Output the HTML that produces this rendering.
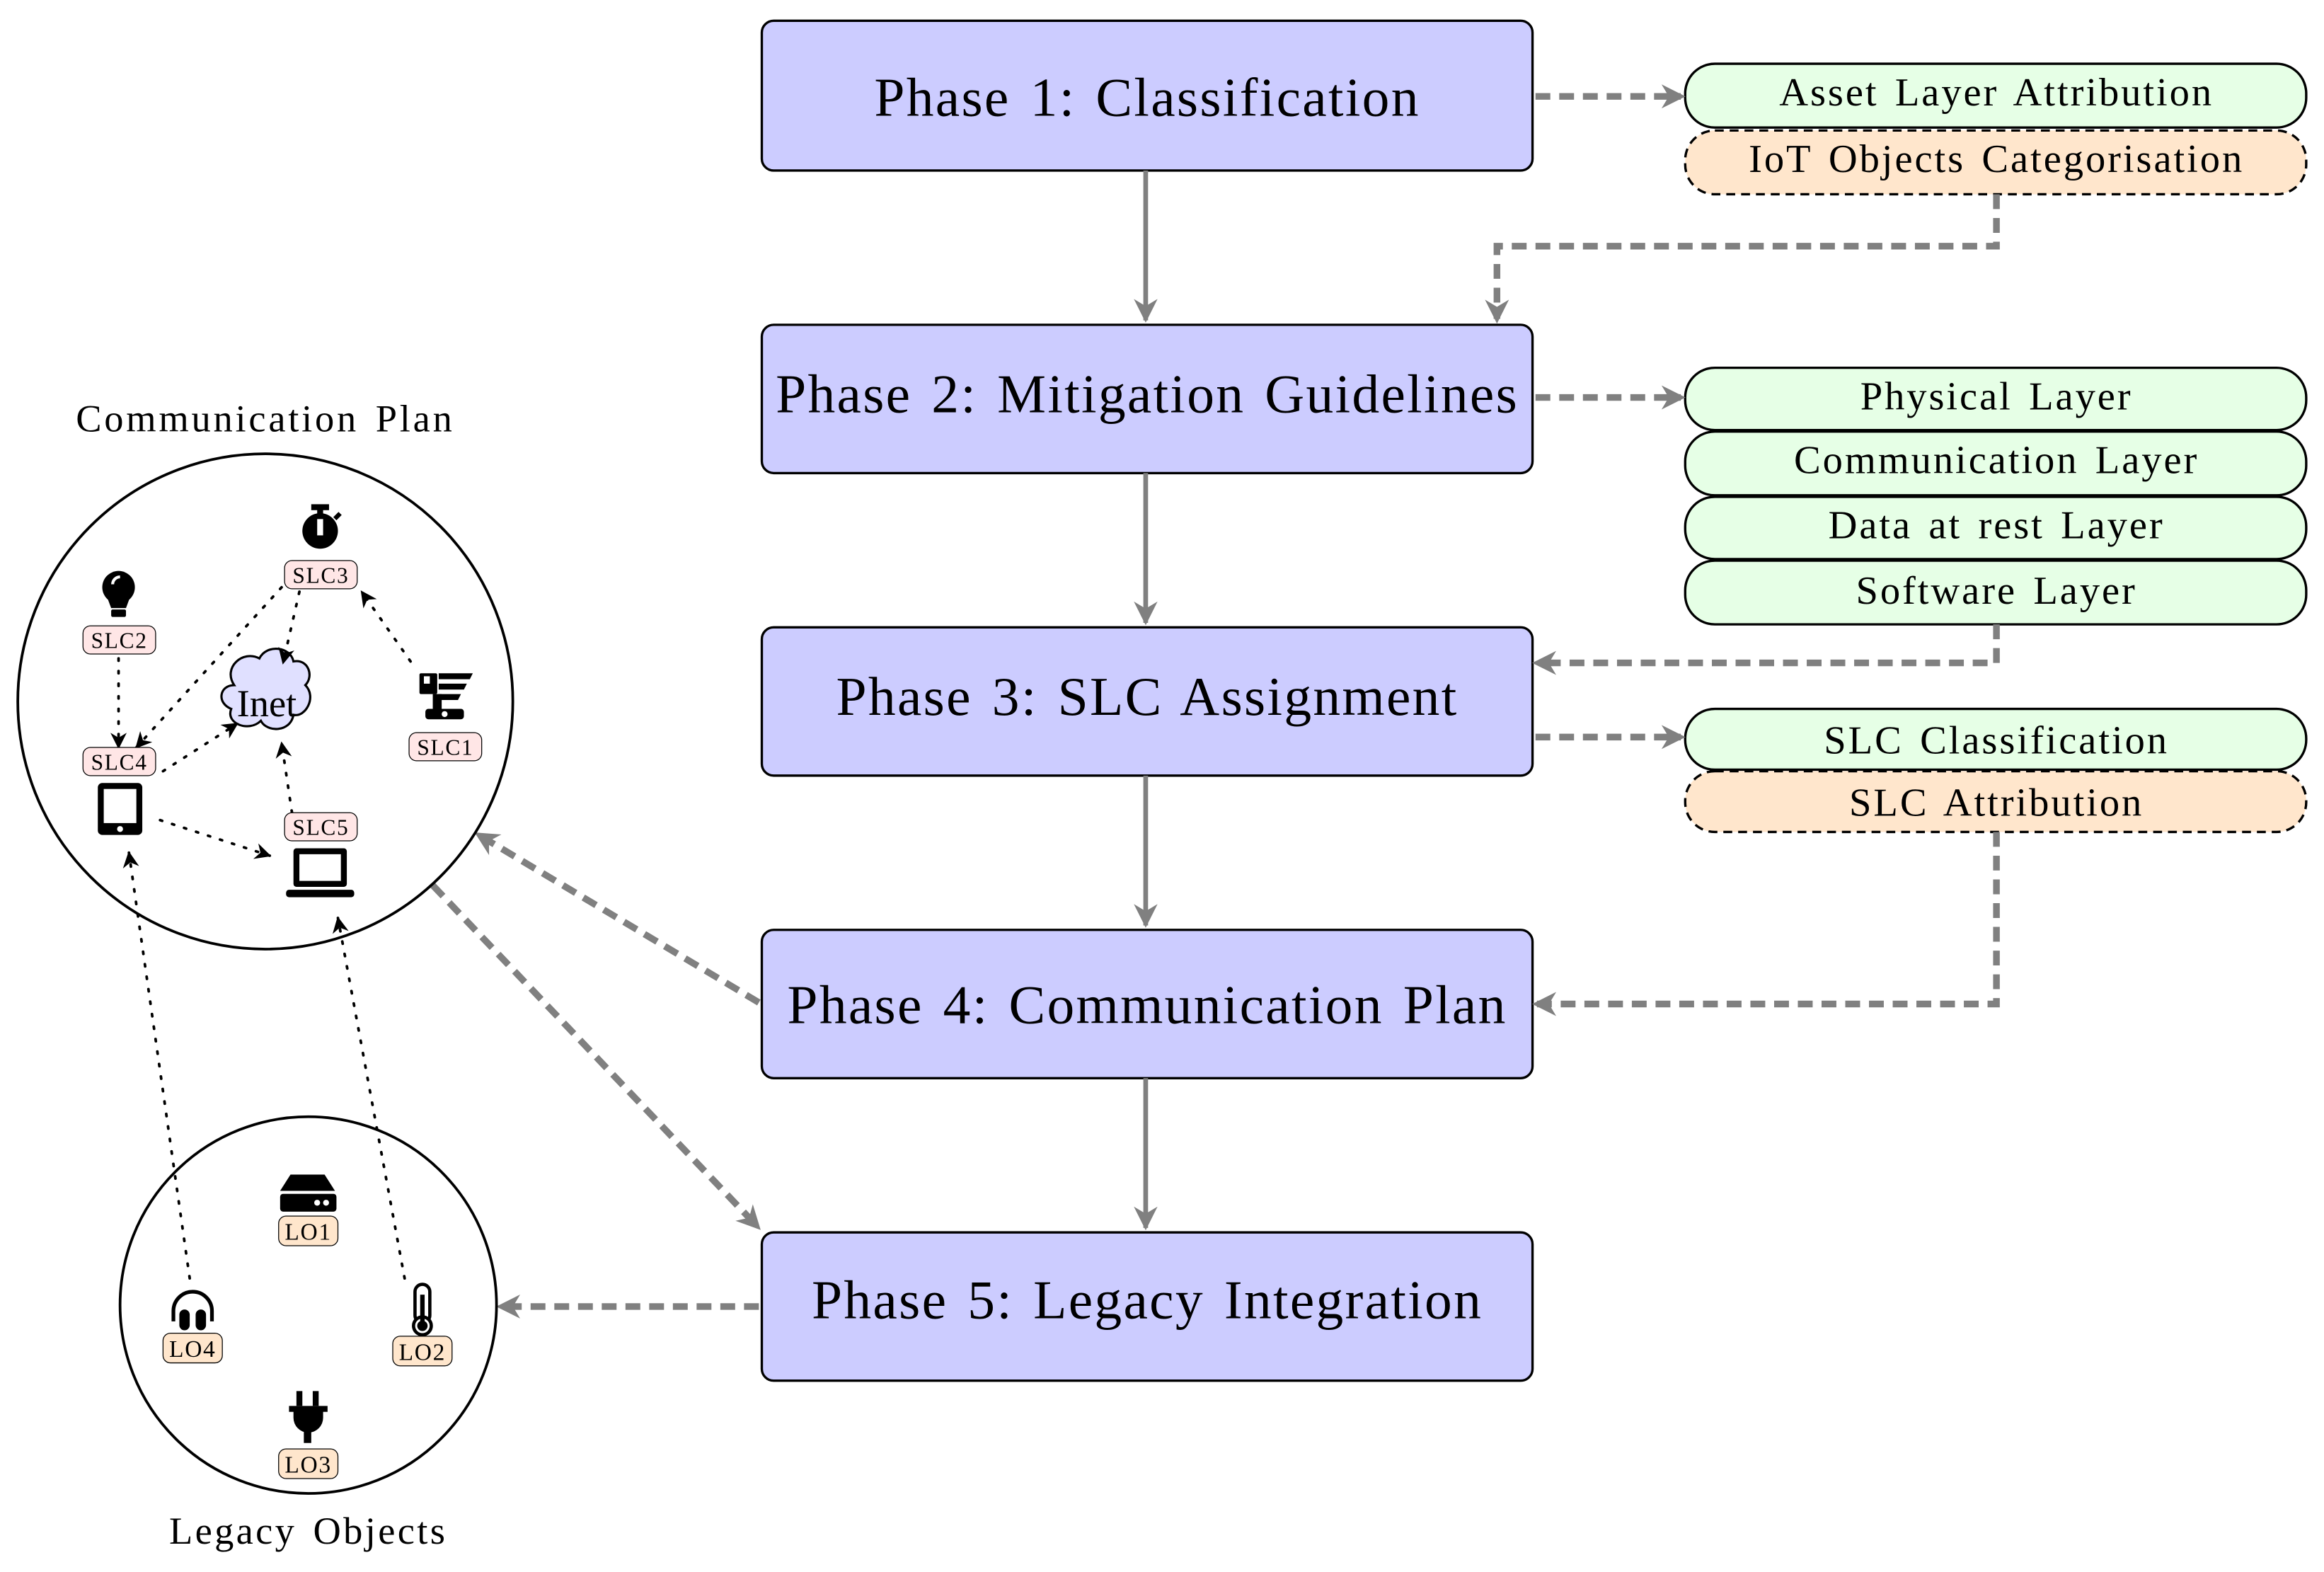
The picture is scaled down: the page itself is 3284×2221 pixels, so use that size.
<!DOCTYPE html>
<html><head><meta charset="utf-8"><style>
html,body{margin:0;padding:0;background:#fff;width:3284px;height:2221px;overflow:hidden}
svg{display:block}
text{font-family:"Liberation Serif",serif;fill:#000}
</style></head><body>
<svg width="3284" height="2221" viewBox="0 0 1568 1060" preserveAspectRatio="none" xmlns="http://www.w3.org/2000/svg">
<defs>
<marker id="ga" viewBox="0 0 10 10" refX="8" refY="5" markerWidth="3.6" markerHeight="3.6" orient="auto"><path d="M0,0 L10,5 L0,10 L3,5 z" fill="#808080"/></marker>
<marker id="gb" viewBox="0 0 10 10" refX="9" refY="5" markerWidth="5" markerHeight="5" orient="auto"><path d="M0,0 L10,5 L0,10 L3,5 z" fill="#808080"/></marker>
<marker id="ka" viewBox="0 0 10 10" refX="9" refY="5" markerWidth="11" markerHeight="11" markerUnits="userSpaceOnUse" orient="auto"><path d="M0,0 L10,5 L0,10 L3,5 z" fill="#000"/></marker>
</defs>

<g fill="#ccccff" stroke="#000" stroke-width="1.6">
<rect x="514" y="14" width="520" height="101" rx="8"/>
<rect x="514" y="219" width="520" height="100" rx="8"/>
<rect x="514" y="423" width="520" height="100" rx="8"/>
<rect x="514" y="627" width="520" height="100" rx="8"/>
<rect x="514" y="831" width="520" height="100" rx="8"/>
</g>
<g font-size="37" text-anchor="middle" letter-spacing="1.1" word-spacing="3">
<text x="774" y="78">Phase 1: Classification</text>
<text x="774" y="278">Phase 2: Mitigation Guidelines</text>
<text x="774" y="482">Phase 3: SLC Assignment</text>
<text x="774" y="690">Phase 4: Communication Plan</text>
<text x="774" y="889">Phase 5: Legacy Integration</text>
</g>

<g stroke="#808080" stroke-width="3.2" fill="none">
<line x1="773" y1="115" x2="773" y2="216" marker-end="url(#gb)"/>
<line x1="773" y1="319" x2="773" y2="420" marker-end="url(#gb)"/>
<line x1="773" y1="523" x2="773" y2="624" marker-end="url(#gb)"/>
<line x1="773" y1="727" x2="773" y2="828" marker-end="url(#gb)"/>
</g>

<g stroke="#000" stroke-width="1.6">
<rect x="1137" y="43" width="419" height="43" rx="20" fill="#e6ffe6"/>
<rect x="1137" y="88" width="419" height="43" rx="20" fill="#ffe6cc" stroke-dasharray="6,4"/>
<rect x="1137" y="248" width="419" height="42" rx="20" fill="#e6ffe6"/>
<rect x="1137" y="291" width="419" height="43" rx="20" fill="#e6ffe6"/>
<rect x="1137" y="335" width="419" height="42" rx="20" fill="#e6ffe6"/>
<rect x="1137" y="378" width="419" height="43" rx="20" fill="#e6ffe6"/>
<rect x="1137" y="478" width="419" height="41" rx="20" fill="#e6ffe6"/>
<rect x="1137" y="520" width="419" height="41" rx="20" fill="#ffe6cc" stroke-dasharray="6,4"/>
</g>
<g font-size="27" text-anchor="middle" letter-spacing="1.4" word-spacing="3">
<text x="1347" y="71">Asset Layer Attribution</text>
<text x="1347" y="116">IoT Objects Categorisation</text>
<text x="1347" y="276">Physical Layer</text>
<text x="1347" y="319">Communication Layer</text>
<text x="1347" y="363">Data at rest Layer</text>
<text x="1347" y="407">Software Layer</text>
<text x="1347" y="508">SLC Classification</text>
<text x="1347" y="550">SLC Attribution</text>
</g>

<g stroke="#808080" stroke-width="4.5" fill="none" stroke-dasharray="10,6">
<line x1="1036" y1="65" x2="1134" y2="65" marker-end="url(#ga)"/>
<line x1="1036" y1="268" x2="1134" y2="268" marker-end="url(#ga)"/>
<line x1="1036" y1="497" x2="1134" y2="497" marker-end="url(#ga)"/>
<polyline points="1347,131 1347,166 1010,166 1010,215" marker-end="url(#ga)"/>
<polyline points="1347,421 1347,447 1037,447" marker-end="url(#ga)"/>
<polyline points="1347,561 1347,677 1037,677" marker-end="url(#ga)"/>
<line x1="512" y1="676" x2="323" y2="563" marker-end="url(#ga)"/>
<line x1="292" y1="597" x2="511" y2="827" marker-end="url(#ga)"/>
<line x1="512" y1="881" x2="338" y2="881" marker-end="url(#ga)"/>
</g>

<circle cx="179" cy="473" r="167" fill="none" stroke="#000" stroke-width="1.8"/>
<circle cx="208" cy="880" r="127" fill="none" stroke="#000" stroke-width="1.8"/>
<text x="179" y="291" font-size="26" text-anchor="middle" letter-spacing="1.8" word-spacing="3">Communication Plan</text>
<text x="208" y="1041" font-size="26" text-anchor="middle" letter-spacing="1.6" word-spacing="3">Legacy Objects</text>

<path d="M158,462 C150,450 164,438 175,444 C180,434 196,436 198,446 C208,444 212,456 206,462 C214,470 206,484 198,482 C196,494 180,494 176,486 C168,494 152,488 156,478 C146,474 148,462 158,462 Z" fill="#e0e0ff" stroke="#000" stroke-width="1.5"/>
<text x="180" y="483" font-size="26" text-anchor="middle">Inet</text>

<g stroke="#000" stroke-width="1.8" fill="none" stroke-dasharray="1.5,7" stroke-linecap="round">
<line x1="80" y1="444" x2="80" y2="504" marker-end="url(#ka)"/>
<line x1="190" y1="396" x2="92" y2="504" marker-end="url(#ka)"/>
<line x1="202" y1="399" x2="191" y2="447" marker-end="url(#ka)"/>
<line x1="277" y1="446" x2="244" y2="399" marker-end="url(#ka)"/>
<line x1="110" y1="520" x2="160" y2="488" marker-end="url(#ka)"/>
<line x1="197" y1="548" x2="190" y2="501" marker-end="url(#ka)"/>
<line x1="108" y1="553" x2="182" y2="577" marker-end="url(#ka)"/>
<line x1="128" y1="862" x2="87" y2="575" marker-end="url(#ka)"/>
<line x1="273" y1="862" x2="228" y2="619" marker-end="url(#ka)"/>
</g>

<g fill="#000">
<rect x="210" y="340" width="12" height="4"/><rect x="214" y="343" width="4" height="5"/>
<circle cx="216" cy="358" r="12"/><rect x="214" y="350" width="4" height="11" fill="#fff"/>
<rect x="225" y="347" width="5" height="3" transform="rotate(-45 227 348)"/>
<circle cx="80" cy="396" r="11"/><path d="M72,402 L88,402 L85,410 L75,410Z"/><rect x="75" y="411" width="10" height="5" rx="1"/>
<path d="M76,394 A5,5 0 0 1 81,389" stroke="#fff" stroke-width="2" fill="none"/>
<rect x="283" y="454" width="12" height="14" rx="1"/><rect x="286" y="456" width="4" height="5" fill="#fff"/>
<path d="M296,454 L319,454 L317,458 L296,458Z M296,461 L315,461 L313,465 L296,465Z M296,468 L311,468 L309,472 L296,472Z"/>
<rect x="292" y="468" width="6" height="10"/>
<rect x="287" y="478" width="26" height="7" rx="2"/><circle cx="300" cy="481.5" r="2" fill="#fff"/>
<rect x="66" y="528" width="30" height="35" rx="3"/><rect x="70" y="532" width="22" height="23" fill="#fff"/><circle cx="81" cy="559" r="2" fill="#fff"/>
<rect x="198" y="572" width="36" height="26" rx="2"/><rect x="202" y="576" width="28" height="18" fill="#fff"/>
<rect x="193" y="600" width="46" height="5" rx="2"/>
</g>
<g fill="#ffe6e6" stroke="#000" stroke-width="0.6">
<rect x="192" y="378" width="49" height="19" rx="5"/>
<rect x="56" y="422" width="49" height="19" rx="5"/>
<rect x="276" y="494" width="49" height="19" rx="5"/>
<rect x="56" y="504" width="49" height="19" rx="5"/>
<rect x="192" y="548" width="49" height="19" rx="5"/>
</g>
<g font-size="15" text-anchor="middle" letter-spacing="0.8">
<text x="216.5" y="393">SLC3</text>
<text x="80.5" y="437">SLC2</text>
<text x="300.5" y="509">SLC1</text>
<text x="80.5" y="519">SLC4</text>
<text x="216.5" y="563">SLC5</text>
</g>

<g fill="#000">
<path d="M196,792 L219,792 L226,803 L189,803Z"/><rect x="189" y="805" width="38" height="12" rx="2"/>
<circle cx="214" cy="811" r="2" fill="#fff"/><circle cx="220" cy="811" r="2" fill="#fff"/>
<path d="M117,891 L117,884 A13,13 0 0 1 143,884 L143,891" stroke="#000" stroke-width="2.5" fill="none"/>
<rect x="121" y="883" width="7" height="14" rx="3.5"/><rect x="132" y="883" width="7" height="14" rx="3.5"/>
<rect x="280" y="866" width="10" height="26" rx="5" fill="none" stroke="#000" stroke-width="2.2"/>
<circle cx="285" cy="894" r="6" fill="#fff" stroke="#000" stroke-width="2.2"/><circle cx="285" cy="894" r="3.5"/><rect x="283.5" y="873" width="3" height="20"/>
<rect x="200" y="938" width="4" height="10"/><rect x="211" y="938" width="4" height="10"/>
<path d="M195,948 L221,948 L221,952 L218,952 L218,956 A10,10 0 0 1 198,956 L198,952 L195,952Z"/><rect x="205" y="963" width="5" height="10"/>
</g>
<g fill="#ffe6cc" stroke="#000" stroke-width="0.6">
<rect x="188" y="820" width="40" height="20" rx="5"/>
<rect x="110" y="899" width="40" height="20" rx="5"/>
<rect x="265" y="901" width="40" height="20" rx="5"/>
<rect x="188" y="977" width="40" height="20" rx="5"/>
</g>
<g font-size="16" text-anchor="middle" letter-spacing="0.8">
<text x="208" y="836">LO1</text>
<text x="130" y="915">LO4</text>
<text x="285" y="917">LO2</text>
<text x="208" y="993">LO3</text>
</g>
</svg>
</body></html>
